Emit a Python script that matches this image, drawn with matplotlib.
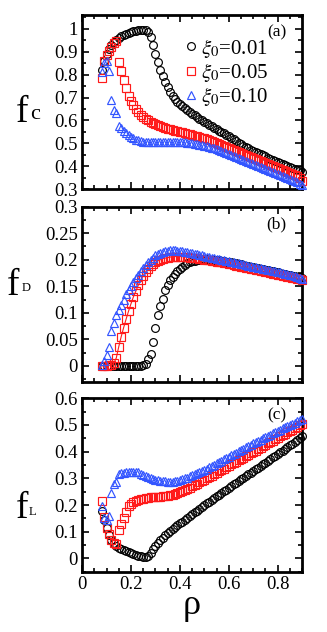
import matplotlib
matplotlib.use("Agg")
import matplotlib.pyplot as plt
from matplotlib.ticker import MultipleLocator, FormatStrFormatter

plt.rcParams['font.family'] = ['Liberation Serif', 'DejaVu Serif']
plt.rcParams['mathtext.fontset'] = 'stix'

rho = [0.08, 0.09, 0.10, 0.11, 0.12, 0.13, 0.14, 0.15, 0.16, 0.17, 0.18, 0.19,
       0.20, 0.21, 0.22, 0.23, 0.24, 0.25, 0.26, 0.27, 0.28, 0.29, 0.30, 0.31,
       0.32, 0.33, 0.34, 0.35, 0.36, 0.37, 0.38, 0.39, 0.40, 0.41, 0.42, 0.43,
       0.44, 0.45, 0.46, 0.47, 0.48, 0.49, 0.50, 0.51, 0.52, 0.53, 0.54, 0.55,
       0.56, 0.57, 0.58, 0.59, 0.60, 0.61, 0.62, 0.63, 0.64, 0.65, 0.66, 0.67,
       0.68, 0.69, 0.70, 0.71, 0.72, 0.73, 0.74, 0.75, 0.76, 0.77, 0.78, 0.79,
       0.80, 0.81, 0.82, 0.83, 0.84, 0.85, 0.86, 0.87, 0.88, 0.89, 0.90]

legend_labels = [r'$\xi_0$=0.01', r'$\xi_0$=0.05', r'$\xi_0$=0.10']

# ---- f_C ----
fc_001 = [0.82, 0.86, 0.89, 0.912, 0.93, 0.943, 0.953, 0.961, 0.967, 0.972, 0.977, 0.981,
          0.985, 0.988, 0.991, 0.993, 0.995, 0.996, 0.994, 0.985, 0.963, 0.93, 0.89, 0.853,
          0.822, 0.792, 0.767, 0.744, 0.724, 0.707, 0.693, 0.681, 0.672, 0.663, 0.654, 0.646,
          0.638, 0.63, 0.623, 0.615, 0.608, 0.601, 0.594, 0.588, 0.581, 0.575, 0.568, 0.562,
          0.556, 0.55, 0.544, 0.538, 0.532, 0.525, 0.518, 0.511, 0.503, 0.496, 0.49, 0.484,
          0.479, 0.473, 0.468, 0.463, 0.458, 0.453, 0.448, 0.443, 0.438, 0.433, 0.429, 0.424,
          0.419, 0.415, 0.411, 0.406, 0.402, 0.398, 0.394, 0.39, 0.386, 0.382, 0.376]
fc_005 = [0.785, 0.86, 0.885, 0.905, 0.922, 0.937, 0.948, 0.855, 0.815, 0.775, 0.74, 0.705,
          0.685, 0.668, 0.65, 0.636, 0.625, 0.615, 0.607, 0.60, 0.594, 0.589, 0.585, 0.581,
          0.577, 0.573, 0.569, 0.565, 0.562, 0.559, 0.556, 0.553, 0.55, 0.548, 0.545, 0.542,
          0.54, 0.537, 0.534, 0.531, 0.528, 0.525, 0.522, 0.518, 0.514, 0.511, 0.507, 0.503,
          0.499, 0.494, 0.49, 0.485, 0.481, 0.477, 0.472, 0.468, 0.463, 0.459, 0.455, 0.45,
          0.446, 0.441, 0.437, 0.433, 0.429, 0.424, 0.42, 0.416, 0.412, 0.407, 0.403, 0.398,
          0.394, 0.39, 0.385, 0.381, 0.376, 0.372, 0.367, 0.362, 0.356, 0.349, 0.338]
fc_010 = [0.81, 0.85, 0.86, 0.815, 0.69, 0.645, 0.632, 0.578, 0.566, 0.556, 0.546, 0.537,
          0.529, 0.522, 0.517, 0.513, 0.51, 0.508, 0.507, 0.507, 0.507, 0.507, 0.507, 0.507,
          0.507, 0.507, 0.507, 0.507, 0.507, 0.507, 0.507, 0.506, 0.506, 0.505, 0.504, 0.503,
          0.502, 0.50, 0.498, 0.496, 0.494, 0.492, 0.49, 0.487, 0.484, 0.481, 0.478, 0.475,
          0.471, 0.467, 0.463, 0.459, 0.455, 0.45, 0.445, 0.44, 0.435, 0.43, 0.426, 0.422,
          0.418, 0.414, 0.41, 0.406, 0.402, 0.398, 0.394, 0.39, 0.385, 0.381, 0.376, 0.372,
          0.367, 0.363, 0.358, 0.354, 0.349, 0.345, 0.34, 0.335, 0.33, 0.325, 0.318]

# ---- f_D ----
fd_001 = [0.0, 0.0, 0.0, 0.0, 0.0, 0.0, 0.0, 0.0, 0.0, 0.0, 0.0, 0.0,
          0.0, 0.0, 0.0, 0.0, 0.0, 0.001, 0.004, 0.012, 0.022, 0.045, 0.072, 0.096,
          0.113, 0.126, 0.142, 0.152, 0.161, 0.168, 0.174, 0.179, 0.183, 0.187, 0.19, 0.193,
          0.195, 0.197, 0.198, 0.199, 0.20, 0.20, 0.201, 0.201, 0.20, 0.20, 0.20, 0.199,
          0.199, 0.198, 0.197, 0.196, 0.196, 0.195, 0.194, 0.193, 0.192, 0.191, 0.19, 0.189,
          0.188, 0.187, 0.186, 0.185, 0.184, 0.183, 0.182, 0.181, 0.18, 0.179, 0.178, 0.177,
          0.176, 0.175, 0.174, 0.173, 0.172, 0.171, 0.17, 0.169, 0.168, 0.167, 0.166]
fd_005 = [0.0, 0.0, 0.0, 0.001, 0.002, 0.005, 0.015, 0.036, 0.055, 0.072, 0.088, 0.103,
          0.117, 0.13, 0.141, 0.152, 0.162, 0.17, 0.177, 0.183, 0.188, 0.192, 0.195, 0.198,
          0.20, 0.202, 0.203, 0.204, 0.205, 0.206, 0.206, 0.206, 0.206, 0.206, 0.205, 0.205,
          0.204, 0.204, 0.203, 0.203, 0.202, 0.201, 0.20, 0.20, 0.199, 0.198, 0.197, 0.196,
          0.195, 0.195, 0.194, 0.193, 0.192, 0.191, 0.19, 0.189, 0.188, 0.187, 0.186, 0.185,
          0.184, 0.183, 0.182, 0.181, 0.18, 0.179, 0.178, 0.177, 0.176, 0.175, 0.174, 0.173,
          0.172, 0.171, 0.17, 0.169, 0.168, 0.167, 0.166, 0.165, 0.164, 0.163, 0.162]
fd_010 = [0.002, 0.01, 0.02, 0.035, 0.065, 0.08, 0.095, 0.105, 0.115, 0.125, 0.135, 0.143,
          0.151, 0.158, 0.165, 0.172, 0.178, 0.184, 0.19, 0.195, 0.20, 0.204, 0.208, 0.211,
          0.213, 0.215, 0.216, 0.217, 0.218, 0.218, 0.218, 0.217, 0.217, 0.216, 0.215, 0.214,
          0.213, 0.212, 0.211, 0.21, 0.209, 0.208, 0.207, 0.206, 0.205, 0.204, 0.203, 0.202,
          0.201, 0.20, 0.199, 0.198, 0.197, 0.196, 0.195, 0.194, 0.193, 0.192, 0.191, 0.19,
          0.189, 0.188, 0.187, 0.186, 0.185, 0.184, 0.183, 0.182, 0.181, 0.18, 0.179, 0.178,
          0.177, 0.176, 0.175, 0.174, 0.173, 0.172, 0.171, 0.17, 0.168, 0.166, 0.164]

# ---- f_L ----
fl_001 = [0.176, 0.145, 0.113, 0.088, 0.07, 0.056, 0.047, 0.04, 0.035, 0.031, 0.026, 0.022,
          0.019, 0.016, 0.013, 0.01, 0.008, 0.006, 0.005, 0.008, 0.02, 0.035, 0.048, 0.058,
          0.068, 0.078, 0.087, 0.095, 0.103, 0.11, 0.117, 0.124, 0.131, 0.137, 0.144, 0.151,
          0.158, 0.165, 0.172, 0.179, 0.186, 0.193, 0.20, 0.206, 0.213, 0.219, 0.226, 0.232,
          0.238, 0.245, 0.251, 0.257, 0.264, 0.27, 0.277, 0.283, 0.289, 0.296, 0.302, 0.308,
          0.315, 0.321, 0.327, 0.334, 0.34, 0.347, 0.353, 0.359, 0.366, 0.372, 0.379, 0.385,
          0.391, 0.398, 0.404, 0.411, 0.417, 0.424, 0.43, 0.437, 0.443, 0.45, 0.458]
fl_005 = [0.215, 0.155, 0.115, 0.09, 0.07, 0.058, 0.055, 0.108, 0.13, 0.15, 0.172, 0.195,
          0.203, 0.21, 0.215, 0.219, 0.222, 0.224, 0.226, 0.228, 0.229, 0.23, 0.23, 0.231,
          0.231, 0.232, 0.233, 0.235, 0.237, 0.239, 0.242, 0.245, 0.248, 0.252, 0.256, 0.26,
          0.265, 0.27, 0.275, 0.28, 0.285, 0.29, 0.295, 0.30, 0.305, 0.31, 0.315, 0.321,
          0.326, 0.331, 0.336, 0.341, 0.347, 0.352, 0.357, 0.362, 0.368, 0.373, 0.378, 0.383,
          0.389, 0.394, 0.399, 0.404, 0.41, 0.415, 0.42, 0.425, 0.431, 0.436, 0.441, 0.446,
          0.452, 0.457, 0.462, 0.467, 0.473, 0.478, 0.483, 0.488, 0.494, 0.499, 0.504]
fl_010 = [0.195, 0.15, 0.145, 0.16, 0.245, 0.28, 0.285, 0.318, 0.32, 0.32, 0.322, 0.324,
          0.325, 0.325, 0.324, 0.322, 0.318, 0.313, 0.308, 0.304, 0.30, 0.297, 0.295, 0.293,
          0.291, 0.29, 0.289, 0.288, 0.288, 0.288, 0.289, 0.291, 0.293, 0.296, 0.30, 0.303,
          0.307, 0.311, 0.315, 0.319, 0.323, 0.327, 0.331, 0.336, 0.341, 0.346, 0.351, 0.356,
          0.361, 0.366, 0.371, 0.376, 0.381, 0.386, 0.391, 0.396, 0.401, 0.406, 0.411, 0.416,
          0.421, 0.426, 0.431, 0.436, 0.44, 0.445, 0.45, 0.455, 0.459, 0.464, 0.469, 0.473,
          0.478, 0.482, 0.487, 0.491, 0.496, 0.50, 0.505, 0.509, 0.514, 0.518, 0.522]

colors = ['black', '#ff1a1a', '#3355ff']
markers = ['o', 's', '^']

fig = plt.figure(figsize=(3.27, 6.32), dpi=100)
L, W = 0.251, 0.673
ax_a = fig.add_axes([L, 0.7005, W, 0.2758])
ax_b = fig.add_axes([L, 0.396, W, 0.277])
ax_c = fig.add_axes([L, 0.0954, W, 0.2744])

panels = [
    (ax_a, [fc_001, fc_005, fc_010], (0.3, 1.06), 0.1, 0.05, '(a)'),
    (ax_b, [fd_001, fd_005, fd_010], (-0.03, 0.3), 0.05, 0.025, '(b)'),
    (ax_c, [fl_001, fl_005, fl_010], (-0.05, 0.6), 0.1, 0.05, '(c)'),
]

for ax, series, ylim, ymaj, ymin, tag in panels:
    for i, (vals, c, m, lab) in enumerate(zip(series, colors, markers, legend_labels)):
        ls = '-' if (ax is ax_b and i == 1) else 'none'
        ax.plot(rho, vals, linestyle=ls, linewidth=0.8, color=c, marker=m,
                markersize=5.6, markerfacecolor='none', markeredgecolor=c,
                markeredgewidth=0.85, clip_on=False, label=lab, zorder=3 + i)
    ax.set_xlim(0, 0.9)
    ax.set_ylim(*ylim)
    ax.xaxis.set_major_locator(MultipleLocator(0.2))
    ax.xaxis.set_minor_locator(MultipleLocator(0.05))
    ax.yaxis.set_major_locator(MultipleLocator(ymaj))
    ax.yaxis.set_minor_locator(MultipleLocator(ymin))
    ax.yaxis.set_major_formatter(FormatStrFormatter('%g'))
    ax.tick_params(which='both', direction='in', top=True, right=True, width=1.2,
                   labelsize=13.5, pad=3)
    ax.tick_params(which='major', length=5)
    ax.tick_params(which='minor', length=3)
    for s in ax.spines.values():
        s.set_linewidth(2.0)
    ax.text(0.93, 0.9, tag, transform=ax.transAxes, ha='right', va='center', fontsize=12.5)
    if ax is not ax_c:
        ax.tick_params(labelbottom=False)
    else:
        ax.xaxis.set_major_formatter(FormatStrFormatter('%g'))

# y labels: big "f" with small subscript
fig.text(16 / 327, 1 - 122 / 632, 'f', fontsize=27, ha='left', va='baseline')
fig.text(30 / 327, 1 - 119 / 632, 'c', fontsize=16, ha='left', va='baseline')
fig.text(7 / 327, 1 - 295 / 632, 'f', fontsize=27, ha='left', va='baseline')
fig.text(22 / 327, 1 - 291 / 632, 'D', fontsize=9, ha='left', va='baseline')
fig.text(16 / 327, 1 - 518 / 632, 'f', fontsize=27, ha='left', va='baseline')
fig.text(29 / 327, 1 - 515 / 632, 'L', fontsize=9, ha='left', va='baseline')

ax_c.set_xlabel('ρ', fontsize=26, labelpad=-3)

leg = ax_a.legend(loc='upper left', bbox_to_anchor=(0.47, 0.875), frameon=False,
                  fontsize=15, handlelength=0.5, handletextpad=0.25,
                  labelspacing=0.05, borderaxespad=0, borderpad=0, markerscale=1.0)

fig.savefig('out.png', dpi=100)
